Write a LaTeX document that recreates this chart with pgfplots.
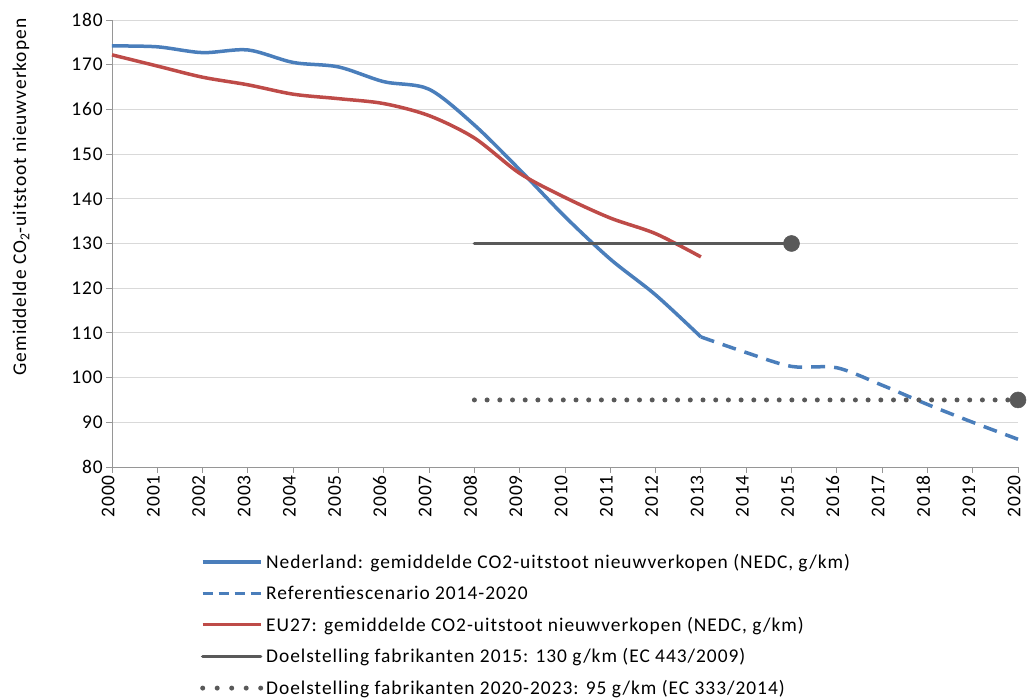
\documentclass[border=0pt]{standalone}
\usepackage{pgfplots}
\pgfplotsset{compat=1.18}
\usepackage{fontspec}
\setmainfont{Carlito}
\definecolor{nlblue}{HTML}{4A7EBB}
\definecolor{eured}{HTML}{BE4B48}
\definecolor{tgray}{HTML}{595959}
\definecolor{gridc}{HTML}{D9D9D9}
\definecolor{axc}{HTML}{969696}
\newcommand{\bigfont}{\fontsize{19.5}{23}\selectfont\addfontfeature{LetterSpace=5}}
\begin{document}
\begin{tikzpicture}[x=1bp,y=1bp]
\useasboundingbox (-112,-232) rectangle (915,467);
\begin{axis}[
  scale only axis,
  width=906bp, height=447bp,
  at={(0,0)}, anchor=south west,
  xmin=2000, xmax=2020, ymin=80, ymax=180,
  xtick={2000,2001,...,2020},
  ytick={80,90,...,180},
  axis lines=left,
  axis line style={-, draw=axc, line width=0.9bp},
  tick style={draw=axc, line width=0.9bp},
  tick align=outside,
  major tick length=6bp,
  ymajorgrids,
  grid style={draw=gridc, line width=0.9bp},
  /pgf/number format/assume math mode=true,
  /pgf/number format/1000 sep={},
  xticklabel style={rotate=90, anchor=mid east, font=\bigfont, inner sep=2bp},
  yticklabel style={font=\bigfont, inner sep=3bp},
  ylabel={Gemiddelde CO\textsubscript{2}-uitstoot nieuwverkopen},
  ylabel style={font=\bigfont, at={(axis description cs:-0.1004,0.604)}, anchor=center},
  legend style={at={(88bp,-86bp)}, anchor=north west, draw=none, fill=none,
    font=\bigfont, row sep=14bp, inner sep=0bp,
    legend cell align=left, nodes={inner xsep=3bp, inner ysep=1bp}},
  legend image code/.code={\draw[#1] (0bp,0bp) -- (58bp,0bp);},
  clip=false,
]
\addplot[nlblue, line width=3.5bp, smooth, tension=0.5] coordinates {
(2000,174.2) (2001,174.0) (2002,172.7) (2003,173.3) (2004,170.5) (2005,169.5)
(2006,166.2) (2007,164.5) (2008,156.5) (2009,146.5) (2010,136.0) (2011,126.5)
(2012,118.5) (2013,109.1)};
\addlegendentry{Nederland: gemiddelde CO2-uitstoot nieuwverkopen (NEDC, g/km)}
\addplot[nlblue, line width=3.5bp, smooth, tension=0.5, dash pattern=on 14bp off 9bp,
  legend image code/.code={\draw[nlblue, line width=3.5bp, dash pattern=on 10bp off 6bp] (0bp,0bp) -- (58bp,0bp);}] coordinates {
(2013,109.1) (2014,105.6) (2015,102.5) (2016,102.2) (2017,98.3) (2018,94.0) (2019,90.0) (2020,86.2)};
\addlegendentry{Referentiescenario 2014-2020}
\addplot[eured, line width=3.5bp, smooth, tension=0.5] coordinates {
(2000,172.2) (2001,169.7) (2002,167.2) (2003,165.5) (2004,163.4) (2005,162.4)
(2006,161.3) (2007,158.6) (2008,153.6) (2009,145.7) (2010,140.3) (2011,135.7)
(2012,132.2) (2013,127.0)};
\addlegendentry{EU27: gemiddelde CO2-uitstoot nieuwverkopen (NEDC, g/km)}
\addplot[tgray, line width=3.5bp, line cap=round, mark=*, mark indices={2}, mark size=8bp, mark options={solid, fill=tgray, draw=tgray, line width=0.5bp},
  legend image code/.code={\draw[tgray, line width=3.5bp] (0bp,0bp) -- (58bp,0bp);}] coordinates {
(2008,130) (2015,130)};
\addlegendentry{Doelstelling fabrikanten 2015: 130 g/km (EC 443/2009)}
\addplot[tgray, line width=5bp, line cap=round, dash pattern=on 0bp off 12.7bp, mark=*, mark indices={2}, mark size=8bp, mark options={solid, fill=tgray, draw=tgray, line width=0.5bp},
  legend image code/.code={\draw[tgray, line width=5bp, line cap=round, dash pattern=on 0bp off 14.5bp] (0bp,0bp) -- (58bp,0bp);}] coordinates {
(2008,95) (2020,95)};
\addlegendentry{Doelstelling fabrikanten 2020-2023: 95 g/km (EC 333/2014)}
\end{axis}
\end{tikzpicture}
\end{document}
